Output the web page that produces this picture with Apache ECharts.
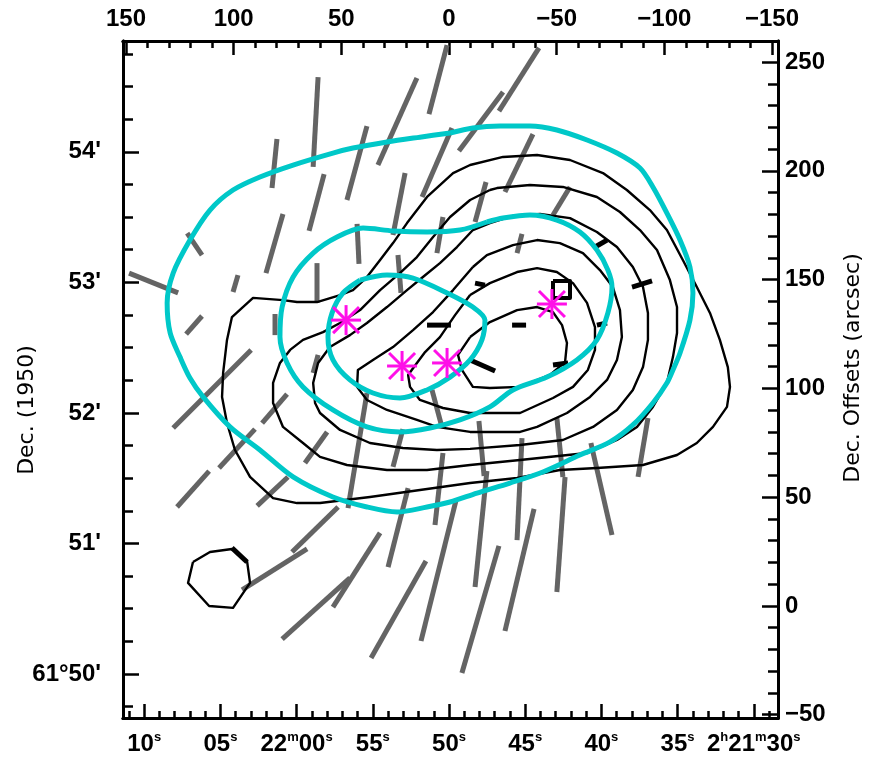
<!DOCTYPE html>
<html>
<head>
<meta charset="utf-8">
<script src="https://cdn.jsdelivr.net/npm/echarts@6/dist/echarts.min.js"></script>
<style>
  html, body { margin: 0; padding: 0; background: #ffffff; }
  #chart { width: 869px; height: 760px; }
</style>
</head>
<body>
<div id="chart"></div>
<script>
// ---- Map frame: offsets in arcsec from the map centre (RA offset grows to the east / left)
const X_MIN = -152.8, X_MAX = 151.4;
const Y_MIN = -51.5,  Y_MAX = 259.7;

// ---- Axis ticks and labels
const offsetTicksX = [150, 100, 50, 0, -50, -100, -150];          // top: RA offsets (arcsec)
const offsetTicksY = [-50, 0, 50, 100, 150, 200, 250];            // right: Dec offsets (arcsec)
const raSecondArcsec = 7.077;                                     // 1 s of RA at this declination
const raTickSeconds = [20, 15, 10, 5, 0, -5, -10, -15, -20];      // relative to 2h21m50s
const raTickLabels = ['10s', '05s', '22m00s', '55s', '50s', '45s', '40s', '35s', '2h21m30s'];
const decZeroArcsec = -31.25;                                     // offset of 61°50'00"
const decTickMinutes = [0, 1, 2, 3, 4];
const decTickLabels = ["61°50'", "51'", "52'", "53'", "54'"];

// ---- Polarization vectors (x1, y1, x2, y2) in arcsec
const grayVectors = [
  [60.8, 243.1, 63.1, 201.8], [79.9, 214.6, 82.2, 192.1], [38.1, 220.6, 47.4, 186.6],
  [14.9, 242.7, 33.0, 202.7], [0.9, 257.8, 9.3, 226.1], [58.0, 198.5, 65.0, 172.4],
  [77.1, 180.2, 85.0, 153.0], [20.4, 199.0, 26.0, 170.5], [42.7, 175.6, 41.8, 157.2],
  [61.3, 157.6, 61.3, 139.3], [98.0, 152.1, 100.3, 144.3], [80.8, 134.2, 80.8, 124.5],
  [114.7, 133.3, 122.1, 125.0], [121.6, 171.4, 114.7, 161.3], [148.6, 153.0, 125.8, 143.9],
  [91.9, 117.7, 128.1, 81.8], [60.8, 115.4, 63.1, 107.1], [-1.4, 219.7, 12.5, 188.0],
  [2.8, 178.8, 5.6, 162.2], [23.7, 161.3, 22.3, 143.9], [-41.8, 256.5, -23.2, 227.5],
  [-25.1, 236.2, -4.6, 209.1], [-39.0, 216.9, -26.0, 190.3], [-17.2, 194.9, -12.1, 176.5],
  [-56.2, 192.6, -48.3, 179.7], [-33.9, 171.0, -31.6, 162.2],
  [75.2, 97.4, 86.8, 84.1], [90.1, 81.3, 106.8, 63.4], [111.4, 62.0, 126.3, 45.5],
  [56.6, 80.0, 66.9, 65.7], [74.8, 59.3, 89.1, 46.0], [38.1, 97.9, 46.9, 45.0],
  [51.5, 45.5, 72.9, 24.8], [65.9, 26.2, 96.1, 7.4], [32.0, 33.6, 53.9, -0.5],
  [46.0, 12.9, 77.5, -15.2], [21.4, 81.3, 26.0, 63.9], [19.0, 54.2, 28.3, 17.9],
  [10.7, 20.7, 36.2, -23.9], [2.8, 70.3, 6.5, 37.2], [-3.2, 48.3, 13.0, -16.1],
  [-13.9, 85.0, -16.3, 59.7], [-17.6, 62.0, -12.1, 8.7], [-33.9, 77.2, -31.6, 30.3],
  [-50.1, 86.4, -52.9, 59.3], [-53.9, 59.3, -50.1, 6.4], [-39.5, 44.6, -26.0, -11.5],
  [-23.2, 27.6, -6.0, -30.8], [-65.9, 74.9, -75.7, 32.6], [-92.4, 86.4, -87.8, 59.3],
  [7.9, 99.3, 3.3, 82.3]
];
const blackVectors = [
  [10.2, 129.1, -0.9, 129.1], [-12.1, 148.4, -16.7, 147.5], [-29.3, 129.1, -35.8, 129.1],
  [-67.8, 165.0, -73.4, 168.2], [-85.0, 146.6, -94.3, 149.4], [-48.3, 110.8, -55.3, 111.7],
  [-9.8, 113.1, -21.4, 108.0], [-68.7, 129.1, -73.4, 130.1], [100.8, 26.7, 93.8, 20.2]
];

// ---- Young stellar objects
const stars = [[47.8, 131.4], [21.8, 110.3], [0.9, 111.7], [-47.8, 138.8]];

// ---- Cyan contours
const cyanOuter = [[-0.5,217.4],[13.5,215.5],[28.8,213.3],[44.6,210.5],[53.9,208.2],[72.4,202.7],[87.8,197.2],[100.3,191.2],[111.0,182.0],[120.3,168.2],[128.1,153.0],[130.9,139.3],[129.5,125.5],[124.9,114.4],[120.3,104.8],[114.2,96.1],[101.7,82.3],[87.8,71.7],[72.4,59.3],[53.9,50.1],[38.1,45.5],[24.1,43.2],[10.2,45.5],[-0.5,47.8],[-13.0,51.9],[-28.3,56.5],[-43.6,61.6],[-60.8,69.4],[-74.8,75.4],[-85.4,83.2],[-94.7,93.3],[-101.2,102.5],[-104.0,108.5],[-107.3,116.3],[-111.9,131.4],[-113.3,143.9],[-111.9,155.8],[-107.3,168.2],[-101.2,180.6],[-94.7,192.6],[-88.7,201.3],[-78.0,208.2],[-64.1,214.2],[-50.1,218.8],[-37.6,220.6],[-23.7,220.6],[-11.1,219.7],[-0.5,217.4]];
const cyanMiddle = [[-17.6,176.5],[-5.1,172.8],[10.2,171.9],[26.0,172.4],[39.9,173.7],[52.0,169.6],[63.1,162.2],[72.4,151.2],[77.5,137.4],[78.5,123.6],[75.2,111.7],[67.8,100.7],[53.9,90.1],[38.1,82.3],[22.8,80.0],[8.8,81.8],[-5.1,85.5],[-19.0,91.5],[-29.7,99.3],[-45.5,105.2],[-59.4,113.1],[-68.7,122.3],[-73.8,134.7],[-75.7,146.6],[-73.8,154.4],[-68.7,163.6],[-60.8,171.9],[-50.1,177.4],[-37.6,179.7],[-25.1,178.3],[-17.6,176.5]];
const cyanInner = [[41.3,149.8],[28.8,152.1],[16.7,150.7],[0.9,143.9],[-11.1,137.4],[-16.7,131.4],[-15.3,122.3],[-9.8,113.1],[-0.5,105.2],[10.2,99.3],[22.8,95.6],[35.3,97.9],[46.0,103.9],[53.9,113.1],[56.2,123.6],[54.3,134.7],[49.2,143.9],[41.3,149.8]];

// ---- Black contours, outermost to innermost
const contour1 = [[50.6,142.9],[61.3,139.7],[70.6,139.7],[77.1,140.6],[91.0,141.6],[100.8,132.8],[103.1,122.3],[104.9,107.1],[105.4,96.1],[103.1,84.1],[99.4,71.7],[92.4,59.3],[81.7,49.6],[70.6,47.3],[59.9,47.3],[36.7,50.1],[13.5,53.3],[-9.8,56.5],[-31.6,58.8],[-51.5,62.5],[-68.7,63.4],[-90.1,64.8],[-105.9,69.4],[-115.1,74.9],[-122.6,82.3],[-129.1,91.5],[-130.5,100.7],[-129.5,109.8],[-125.8,122.3],[-121.2,134.7],[-115.1,146.6],[-108.6,159.0],[-101.2,172.8],[-93.3,182.0],[-82.6,191.2],[-71.5,199.0],[-56.2,205.0],[-40.9,207.3],[-25.1,206.4],[-9.8,202.7],[-1.9,199.0],[10.2,188.0],[19.5,176.0],[26.0,166.8],[32.0,159.0],[38.1,151.2],[44.6,145.2],[50.6,142.9]];
const contour2 = [[-19.0,191.2],[-9.8,186.6],[-0.5,178.8],[7.4,169.6],[14.9,160.4],[22.8,153.0],[32.0,145.2],[41.3,136.0],[50.6,130.1],[58.5,125.9],[67.8,122.3],[73.8,117.7],[78.5,111.7],[81.7,102.5],[81.7,93.3],[77.1,82.3],[67.8,74.9],[59.9,68.5],[47.4,64.8],[28.8,62.5],[10.2,62.5],[-9.8,64.8],[-33.0,67.1],[-64.1,70.3],[-78.0,76.3],[-87.3,82.3],[-94.7,91.5],[-101.2,102.5],[-104.0,114.4],[-105.9,125.5],[-105.9,137.4],[-102.6,149.8],[-96.6,163.6],[-88.7,172.8],[-79.4,181.1],[-68.7,188.0],[-52.9,192.6],[-37.6,193.5],[-22.3,192.1],[-19.0,191.2]];
const contour3 = [[-19.0,176.0],[-11.1,172.8],[-3.7,165.0],[4.2,157.6],[12.1,151.2],[19.5,145.2],[28.8,137.4],[38.1,130.1],[46.0,124.5],[55.3,119.0],[60.8,111.7],[63.1,102.5],[62.2,93.3],[59.9,88.7],[50.6,80.9],[36.7,74.9],[21.4,72.6],[5.6,71.7],[-9.8,72.2],[-33.0,74.0],[-52.9,76.3],[-66.9,82.3],[-78.0,90.1],[-85.4,99.3],[-90.1,109.8],[-92.4,122.3],[-92.4,134.7],[-90.1,146.6],[-85.4,155.8],[-78.0,165.0],[-68.7,171.9],[-56.2,178.3],[-42.3,180.2],[-29.7,179.3],[-19.0,176.0]];
const contour4 = [[-11.1,155.8],[-1.9,145.2],[7.4,135.1],[16.7,126.8],[26.0,119.0],[35.3,113.1],[42.3,108.5],[42.7,100.7],[38.1,94.7],[28.8,90.1],[14.9,85.5],[5.6,82.3],[-9.8,80.0],[-33.0,80.0],[-40.9,82.3],[-54.8,88.7],[-65.5,96.1],[-73.4,103.9],[-78.0,113.1],[-80.3,123.6],[-79.4,136.0],[-76.1,146.6],[-70.1,154.4],[-62.2,162.2],[-51.5,166.8],[-40.9,168.2],[-29.7,165.9],[-17.6,161.3],[-11.1,155.8]];
const contour5 = [[-9.8,142.9],[-2.8,133.7],[4.2,123.6],[11.1,116.7],[14.9,111.7],[19.0,106.2],[18.1,100.7],[13.5,94.7],[2.8,91.0],[-9.8,88.7],[-33.0,88.7],[-48.3,95.6],[-57.6,100.7],[-64.5,108.5],[-67.8,117.7],[-67.8,128.2],[-64.1,139.3],[-57.6,148.4],[-50.1,153.5],[-40.9,155.3],[-31.6,153.5],[-19.0,148.4],[-9.8,142.9]];
const contour6 = [[-9.8,123.6],[-19.0,130.5],[-31.6,136.0],[-40.9,137.4],[-48.3,135.1],[-52.5,129.1],[-54.8,120.9],[-53.9,112.1],[-46.9,106.2],[-33.0,100.7],[-19.0,100.2],[-11.1,100.7],[-6.0,108.5],[-4.2,115.4],[-9.8,123.6]];
const peakContour = [[-48.3,149.4],[-56.2,149.4],[-56.2,141.6],[-48.3,141.6],[-48.3,149.4]];
const beamContour = [[118.9,20.2],[111.0,24.8],[100.8,26.2],[93.8,20.7],[92.4,10.6],[100.3,-0.9],[111.4,0.0],[121.2,10.6],[118.9,20.2]];

// ---- Styling
const FONT = "'Liberation Sans', Arial, Helvetica, sans-serif";
const NAME_FONT = "'DejaVu Sans', 'Liberation Sans', sans-serif";
const GRAY = '#646464';
const CYAN = '#00c8c8';
const MAGENTA = '#ff10e8';

function range(a, b, step) { const out = []; for (let v = a; v <= b + 1e-9; v += step) out.push(+v.toFixed(4)); return out; }
function nearestIndex(list, v) { let best = 0; for (let i = 1; i < list.length; i++) if (Math.abs(list[i] - v) < Math.abs(list[best] - v)) best = i; return best; }

const raMajor = raTickSeconds.map(s => +(s * raSecondArcsec).toFixed(4));
const raMinor = range(-21, 21, 1).map(s => +(s * raSecondArcsec).toFixed(4));
const decMajor = decTickMinutes.map(m => decZeroArcsec + 60 * m);
const decMinor = range(-1, 19, 1).map(k => decZeroArcsec + 15 * k);
const offXMinor = range(-150, 150, 10);
const offYMinor = range(-50, 250, 10);

function superscriptRA(label) { return label.replace(/([hms])/g, '{s|$1}'); }

function frameAxis(isX, position, ticks, length, labelCfg) {
  return {
    type: 'value', position: position,
    min: isX ? X_MIN : Y_MIN, max: isX ? X_MAX : Y_MAX,
    inverse: isX, scale: true,
    axisLine: { show: true, onZero: false, lineStyle: { color: '#000', width: 3 } },
    axisTick: { show: true, inside: true, length: length, customValues: ticks, lineStyle: { color: '#000', width: 2.5 } },
    axisLabel: labelCfg ? Object.assign({ show: true, customValues: ticks, color: '#000', fontFamily: FONT, fontWeight: 'bold' }, labelCfg) : { show: false },
    splitLine: { show: false }, minorTick: { show: false }
  };
}

const xAxes = [
  frameAxis(true, 'bottom', raMajor, 14, {
    fontSize: 24, margin: 13, lineHeight: 26,
    formatter: v => superscriptRA(raTickLabels[nearestIndex(raMajor, v)]),
    rich: { s: { fontSize: 13, lineHeight: 13, verticalAlign: 'top', fontFamily: FONT, fontWeight: 'bold', color: '#000' } }
  }),
  frameAxis(true, 'bottom', raMinor, 7, null),
  frameAxis(true, 'top', offsetTicksX, 14, {
    fontSize: 24, margin: 10,
    formatter: v => v === 0 ? '0' : (v < 0 ? '\u2212' + (-v) : String(v))
  }),
  frameAxis(true, 'top', offXMinor, 7, null)
];
const yAxes = [
  frameAxis(false, 'left', decMajor, 16, {
    fontSize: 24, margin: 22,
    formatter: v => decTickLabels[nearestIndex(decMajor, v)]
  }),
  frameAxis(false, 'left', decMinor, 10, null),
  frameAxis(false, 'right', offsetTicksY, 16, {
    fontSize: 24, margin: 7,
    formatter: v => v < 0 ? '\u2212' + (-v) : String(v)
  }),
  frameAxis(false, 'right', offYMinor, 10, null)
];

function segmentSeries(list, color, width, z) {
  return {
    type: 'custom', xAxisIndex: 0, yAxisIndex: 0, z: z, silent: true, clip: true,
    data: list,
    renderItem: (params, api) => {
      const a = api.coord([api.value(0), api.value(1)]);
      const b = api.coord([api.value(2), api.value(3)]);
      return { type: 'line', shape: { x1: a[0], y1: a[1], x2: b[0], y2: b[1] },
               style: { stroke: color, lineWidth: width, lineCap: 'butt' } };
    }
  };
}
function contourSeries(points, color, width, z, smooth) {
  return {
    type: 'line', xAxisIndex: 0, yAxisIndex: 0, data: points, z: z, silent: true,
    showSymbol: false, symbol: 'none', smooth: smooth || false, clip: true,
    lineStyle: { color: color, width: width, join: 'round' }
  };
}

const series = [
  segmentSeries(grayVectors, GRAY, 5, 2),
  contourSeries(contour1, '#000', 2.4, 3),
  contourSeries(contour2, '#000', 2.4, 3),
  contourSeries(contour3, '#000', 2.4, 3),
  contourSeries(contour4, '#000', 2.4, 3),
  contourSeries(contour5, '#000', 2.4, 3),
  contourSeries(contour6, '#000', 2.4, 3),
  contourSeries(peakContour, '#000', 4, 3),
  contourSeries(beamContour, '#000', 2.4, 3),
  segmentSeries(blackVectors, '#000', 5, 4),
  contourSeries(cyanOuter, CYAN, 5, 5, 0.3),
  contourSeries(cyanMiddle, CYAN, 5, 5, 0.3),
  contourSeries(cyanInner, CYAN, 5, 5, 0.3),
  {
    type: 'custom', xAxisIndex: 0, yAxisIndex: 0, z: 6, silent: true, data: stars,
    renderItem: (params, api) => {
      const p = api.coord([api.value(0), api.value(1)]);
      const r = 15, d = 13;
      const st = { stroke: MAGENTA, lineWidth: 3 };
      return { type: 'group', children: [
        { type: 'line', shape: { x1: p[0] - r, y1: p[1], x2: p[0] + r, y2: p[1] }, style: st },
        { type: 'line', shape: { x1: p[0], y1: p[1] - r, x2: p[0], y2: p[1] + r }, style: st },
        { type: 'line', shape: { x1: p[0] - d, y1: p[1] - d, x2: p[0] + d, y2: p[1] + d }, style: st },
        { type: 'line', shape: { x1: p[0] - d, y1: p[1] + d, x2: p[0] + d, y2: p[1] - d }, style: st }
      ] };
    }
  }
];

const chart = echarts.init(document.getElementById('chart'), null, { renderer: 'canvas' });
chart.setOption({
  animation: false,
  backgroundColor: '#ffffff',
  grid: { left: 123, top: 41, width: 655, height: 677, containLabel: false },
  xAxis: xAxes,
  yAxis: yAxes,
  graphic: [
    { type: 'text', x: 27, y: 410, rotation: Math.PI / 2,
      style: { text: 'Dec. (1950)', font: '22px ' + NAME_FONT, fill: '#000', textAlign: 'center', textVerticalAlign: 'middle' } },
    { type: 'text', x: 853, y: 368, rotation: Math.PI / 2,
      style: { text: 'Dec. Offsets (arcsec)', font: '22px ' + NAME_FONT, fill: '#000', textAlign: 'center', textVerticalAlign: 'middle' } }
  ],
  series: series
});
</script>
</body>
</html>
